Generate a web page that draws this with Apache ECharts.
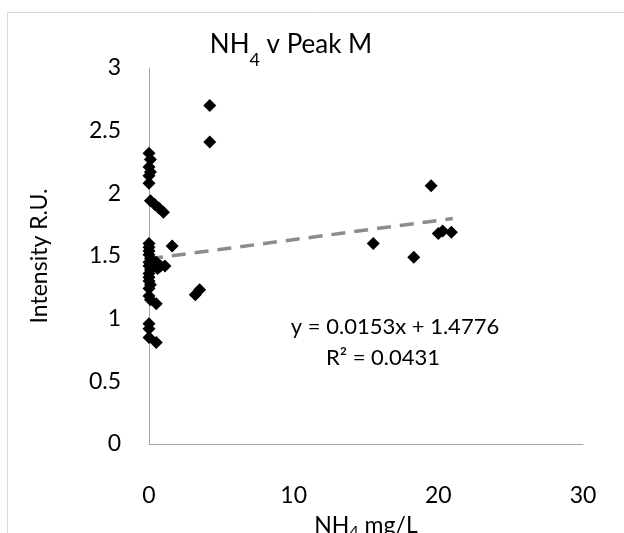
<!DOCTYPE html>
<html><head><meta charset="utf-8">
<script src="https://cdn.jsdelivr.net/npm/echarts@6/dist/echarts.min.js"></script>
<style>html,body{margin:0;padding:0;background:#fff}#c{width:624px;height:533px}</style>
</head><body><div id="c"></div>
<script>
// NH4 mg/L
const nh4 = [0,0.1,0,0.1,0,0, 0.1,0.4,0.7,1.0, 1.6,
  0,0,0,0,0.1,0,0,0.1,0,0,0,0.1,0,0,
  0.5,0.8,1.1,0.6, 0.5,0.1, 0,0,0,0.5, 3.2,3.5, 4.2,4.2,
  15.5,18.3,19.5,20.0,20.3,20.9];
// Intensity R.U.
const intensity = [2.32,2.27,2.21,2.17,2.14,2.08, 1.94,1.91,1.88,1.85, 1.58,
  1.60,1.57,1.54,1.51,1.48,1.45,1.42,1.39,1.36,1.33,1.30,1.27,1.24,1.18,
  1.45,1.42,1.42,1.40, 1.12,1.15, 0.96,0.92,0.85,0.81, 1.19,1.23, 2.70,2.41,
  1.60,1.49,2.06,1.68,1.70,1.69];
const slope = 0.0153, intercept = 1.4776, trendX = [0, 21];
const xTicks = [0, 30, 10];
const yTicks = [0, 3, 0.5];
const font = 'Lato';

const pts = nh4.map((x, i) => [x, intensity[i]]);
const trend = trendX.map(x => [x, slope * x + intercept]);

const chart = echarts.init(document.getElementById('c'), null, {renderer: 'canvas'});
chart.setOption({
  animation: false,
  backgroundColor: '#fff',
  graphic: [
    {type: 'line', shape: {x1: 7.5, y1: 13, x2: 7.5, y2: 533}, style: {stroke: '#d9d9d9', lineWidth: 1}},
    {type: 'line', shape: {x1: 7, y1: 12.5, x2: 624, y2: 12.5}, style: {stroke: '#d9d9d9', lineWidth: 1}},
    {type: 'text', x: 395, y: 327, style: {text: 'y = 0.0153x + 1.4776', font: '22px ' + font, fill: '#000', textAlign: 'center', textVerticalAlign: 'middle'}},
    {type: 'text', x: 383, y: 358, style: {text: 'R² = 0.0431', font: '22px ' + font, fill: '#000', textAlign: 'center', textVerticalAlign: 'middle'}}
  ],
  title: {
    text: '{a|NH}{s|4}{a| v Peak M}',
    left: 286, top: 21, textAlign: 'center',
    textStyle: {fontWeight: 'normal', rich: {
      a: {fontFamily: font, fontSize: 26, fontWeight: 'normal', color: '#000', verticalAlign: 'bottom', lineHeight: 32},
      s: {fontFamily: font, fontSize: 18, fontWeight: 'normal', color: '#000', verticalAlign: 'bottom', lineHeight: 22, padding: [0,0,-11,0]}
    }}
  },
  grid: {left: 149, top: 68, width: 434, height: 376, containLabel: false, outerBoundsMode: 'none'},
  xAxis: {
    type: 'value', min: xTicks[0], max: xTicks[1], interval: xTicks[2],
    splitLine: {show: false}, axisTick: {show: false},
    axisLine: {lineStyle: {color: '#a6a6a6', width: 1}},
    axisLabel: {color: '#000', fontFamily: font, fontSize: 23, margin: 40},
    name: '{a|NH}{s|4}{a| mg/L}', nameLocation: 'middle', nameGap: 70,
    nameTextStyle: {rich: {
      a: {fontFamily: font, fontSize: 23, color: '#000'},
      s: {fontFamily: font, fontSize: 16, color: '#000', padding: [0,0,-12,0]}
    }}
  },
  yAxis: {
    type: 'value', min: yTicks[0], max: yTicks[1], interval: yTicks[2],
    splitLine: {show: false}, axisTick: {show: false},
    axisLine: {show: true, lineStyle: {color: '#a6a6a6', width: 1}},
    axisLabel: {color: '#000', fontFamily: font, fontSize: 23, margin: 28},
    name: 'Intensity R.U.', nameLocation: 'middle', nameGap: 98,
    nameTextStyle: {fontFamily: font, fontSize: 23, color: '#000'}
  },
  series: [
    {type: 'line', data: trend, symbol: 'none', z: 1,
     lineStyle: {color: '#8c8c8c', width: 3.5, type: [14, 9]}},
    {type: 'scatter', data: pts, symbol: 'diamond', symbolSize: 13, z: 3,
     itemStyle: {color: '#000', opacity: 1}}
  ]
});
</script></body></html>
